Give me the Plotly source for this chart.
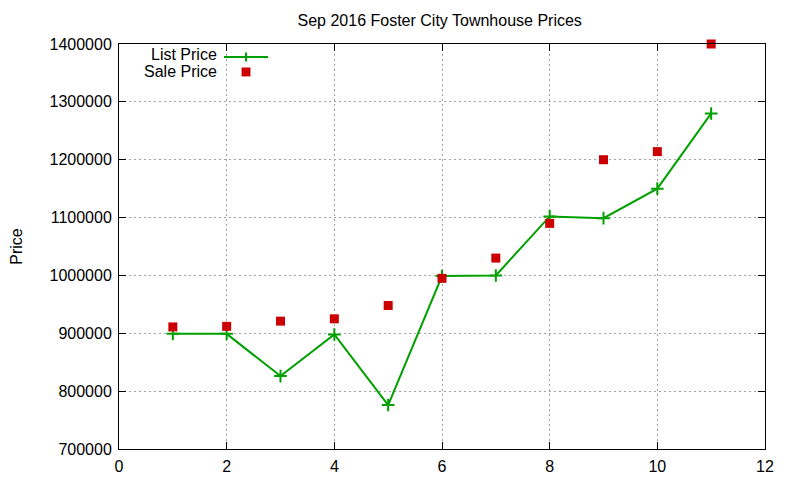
import plotly.graph_objects as go

# values
x_vals = [1, 2, 3, 4, 5, 6, 7, 8, 9, 10, 11]
list_price = [899000, 899000, 826000, 898000, 776000, 999000, 1000000, 1102000, 1099000, 1150000, 1280000]
sale_price = [911000, 912000, 921000, 925000, 948000, 995000, 1030000, 1090000, 1200000, 1214000, 1400000]
x_ticks = [0, 2, 4, 6, 8, 10, 12]
y_ticks = [700000, 800000, 900000, 1000000, 1100000, 1200000, 1300000, 1400000]

GREEN = '#00a000'
RED = '#cc0000'
FONT = 'Liberation Sans, Arial, sans-serif'

fig = go.Figure()

fig.add_trace(go.Scatter(
    x=x_vals, y=list_price, name='List Price', mode='lines+markers',
    line=dict(color=GREEN, width=2),
    marker=dict(symbol='cross-thin', size=9, line=dict(color=GREEN, width=2)),
    cliponaxis=False, showlegend=False))

fig.add_trace(go.Scatter(
    x=x_vals, y=sale_price, name='Sale Price', mode='markers',
    marker=dict(symbol='square', size=9, color=RED),
    cliponaxis=False, showlegend=False))

axis_style = dict(
    showline=True, linecolor='black', linewidth=1, mirror='allticks',
    ticks='inside', ticklen=7, tickcolor='black',
    showgrid=True, gridcolor='#a0a0a0', gridwidth=1, griddash='2px,3px',
    zeroline=False, tickfont=dict(size=16, color='black', family=FONT),
    automargin=False,
)

fig.update_xaxes(range=[0, 12], tickvals=x_ticks, ticklabelstandoff=3, **axis_style)
fig.update_yaxes(range=[700000, 1400000], tickvals=y_ticks, ticklabelstandoff=3,
                 tickformat='d', title=dict(text='Price', standoff=32,
                                            font=dict(size=16, family=FONT)),
                 **axis_style)

# gnuplot-style key: text right-aligned, sample to the right
fig.add_annotation(xref='paper', yref='paper', x=0.155, y=0.973, text='List Price',
                   showarrow=False, xanchor='right', yanchor='middle',
                   font=dict(size=16, family=FONT, color='black'))
fig.add_annotation(xref='paper', yref='paper', x=0.155, y=0.931, text='Sale Price',
                   showarrow=False, xanchor='right', yanchor='middle',
                   font=dict(size=16, family=FONT, color='black'))
fig.add_shape(type='line', xref='paper', yref='paper', x0=0.1625, x1=0.2307,
              y0=0.968, y1=0.968, line=dict(color=GREEN, width=2))
fig.add_shape(type='line', xref='paper', yref='paper', x0=0.1966, x1=0.1966,
              y0=0.957, y1=0.979, line=dict(color=GREEN, width=2))
fig.add_shape(type='rect', xref='paper', yref='paper', x0=0.1897, x1=0.2035,
              y0=0.920, y1=0.942, line=dict(width=0), fillcolor=RED)

fig.update_layout(
    width=800, height=480,
    margin=dict(l=111, r=43, t=36, b=39),
    paper_bgcolor='white', plot_bgcolor='white',
    font=dict(family=FONT, size=16, color='black'),
    title=dict(text='Sep 2016 Foster City Townhouse Prices', x=0.5396, xanchor='center',
               y=0.975, yanchor='middle', font=dict(size=16, family=FONT)),
)

fig.write_html("out.html")
